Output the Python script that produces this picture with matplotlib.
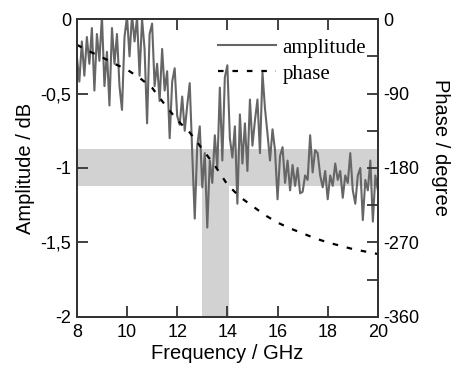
import numpy as np
import matplotlib
matplotlib.use("Agg")
import matplotlib.pyplot as plt
from matplotlib.lines import Line2D

# frequency grid (GHz) and amplitude (dB)
freq = np.round(np.arange(8.0, 20.01, 0.1), 2)
amplitude = [
    -0.25, -0.42, -0.15, -0.38, -0.12, -0.30, -0.06, -0.48, -0.10, -0.28,
    0.02, -0.45, -0.22, -0.58, -0.06, -0.30, -0.10, -0.45, -0.61, -0.12,
    0.02, -0.25, 0.03, -0.15, 0.01, -0.38, 0.00, -0.20, -0.70, -0.10,
    -0.03, -0.45, -0.30, -0.55, -0.20, -0.48, -0.35, -0.80, -0.42, -0.33,
    -0.65, -0.71, -0.52, -0.75, -0.58, -0.43, -0.90, -1.34, -0.85, -0.72,
    -1.13, -0.90, -1.40, -0.95, -1.10, -0.78, -1.00, -0.46, -0.95, -0.39,
    -0.31, -0.80, -0.93, -0.72, -1.24, -0.64, -0.97, -0.70, -1.02, -0.54,
    -0.85, -0.68, -0.54, -0.90, -0.36, -0.60, -0.77, -0.95, -0.74, -0.88,
    -1.21, -0.92, -0.86, -1.10, -0.95, -1.15, -0.98, -1.12, -1.00, -1.17,
    -1.16, -1.05, -1.08, -0.78, -1.03, -0.88, -0.90, -1.05, -1.13, -1.02,
    -1.21, -1.05, -1.12, -0.97, -1.08, -1.02, -1.20, -1.05, -1.10, -0.90,
    -1.15, -1.24, -1.05, -1.00, -1.35, -1.08, -1.15, -0.95, -1.36, -1.05,
    -1.15,
]

# phase (degree)
phase_freq = [8.0, 8.5, 9.0, 9.5, 10.0, 10.5, 11.0, 11.5, 12.0, 12.5, 13.0,
              13.5, 14.0, 14.5, 15.0, 15.5, 16.0, 16.5, 17.0, 17.5, 18.0,
              18.5, 19.0, 19.5, 20.0]
phase = [-31, -39, -46, -54, -61, -71, -83, -103, -122, -137, -157,
         -177, -200, -215, -226, -237, -246, -253, -259, -265, -270,
         -274, -278, -281, -284]

# shaded regions
amp_band = (-1.12, -0.875)
freq_band = (13.0, 14.05)

amp_ticks = [0, -0.5, -1, -1.5, -2]
amp_labels = ["0", "-0,5", "-1", "-1,5", "-2"]
phase_ticks = [0, -90, -180, -270, -360]
phase_labels = ["0", "-90", "-180", "-270", "-360"]
freq_ticks = [8, 10, 12, 14, 16, 18, 20]

plt.rcParams['font.family'] = ['Liberation Sans', 'DejaVu Sans']

fig = plt.figure(figsize=(4.52, 3.75), dpi=100)
ax = fig.add_axes([0.170, 0.155, 0.666, 0.794])
ax2 = ax.twinx()

gray = '#d2d2d2'
ax.axhspan(amp_band[0], amp_band[1], color=gray, lw=0, zorder=0)
ax.fill_between(freq_band, -2, amp_band[0], color=gray, lw=0, zorder=0)

ax.plot(freq, amplitude, color='#666666', lw=1.5, zorder=2)
ax2.plot(phase_freq, phase, color='black', lw=1.6, linestyle=(0, (2.5, 4)))

ax.set_xlim(8, 20)
ax.set_ylim(-2, 0)
ax2.set_ylim(-360, 0)

ax.set_xticks(freq_ticks)
ax.set_yticks(amp_ticks)
ax.set_yticklabels(amp_labels)
ax2.set_yticks(phase_ticks)
ax2.set_yticklabels(phase_labels)
ax2.set_yticks([-45, -135, -225, -315], minor=True)

spine_c = '#333333'
for a in (ax, ax2):
    for s in a.spines.values():
        s.set_color(spine_c)
        s.set_linewidth(1.3)
ax.tick_params(axis='x', which='both', direction='in', top=True, length=8,
               width=1.3, color=spine_c, labelsize=13, pad=5)
ax.tick_params(axis='y', direction='in', length=8, width=1.3,
               color=spine_c, labelsize=13, pad=4)
ax2.tick_params(axis='y', which='both', direction='in', length=8, width=1.3,
                color=spine_c, labelsize=13, pad=4)

ax.set_xlabel("Frequency / GHz", fontsize=14.5, labelpad=2)
ax.set_ylabel("Amplitude / dB", fontsize=14.5, labelpad=4)
ax2.set_ylabel("Phase / degree", fontsize=14.5, rotation=270, labelpad=18)
ax2.yaxis.set_label_coords(1.24, 0.57)

handles = [Line2D([], [], color='#666666', lw=1.5),
           Line2D([], [], color='black', lw=1.6, linestyle=(0, (2.5, 4)))]
ax2.legend(handles, ["amplitude", "phase"], loc='upper right',
           bbox_to_anchor=(1.01, 0.985), frameon=False,
           prop={'family': 'Liberation Serif', 'size': 15},
           handlelength=2.8, handletextpad=0.3, labelspacing=0.3,
           borderaxespad=0.3)

fig.savefig("out.png", dpi=100)
